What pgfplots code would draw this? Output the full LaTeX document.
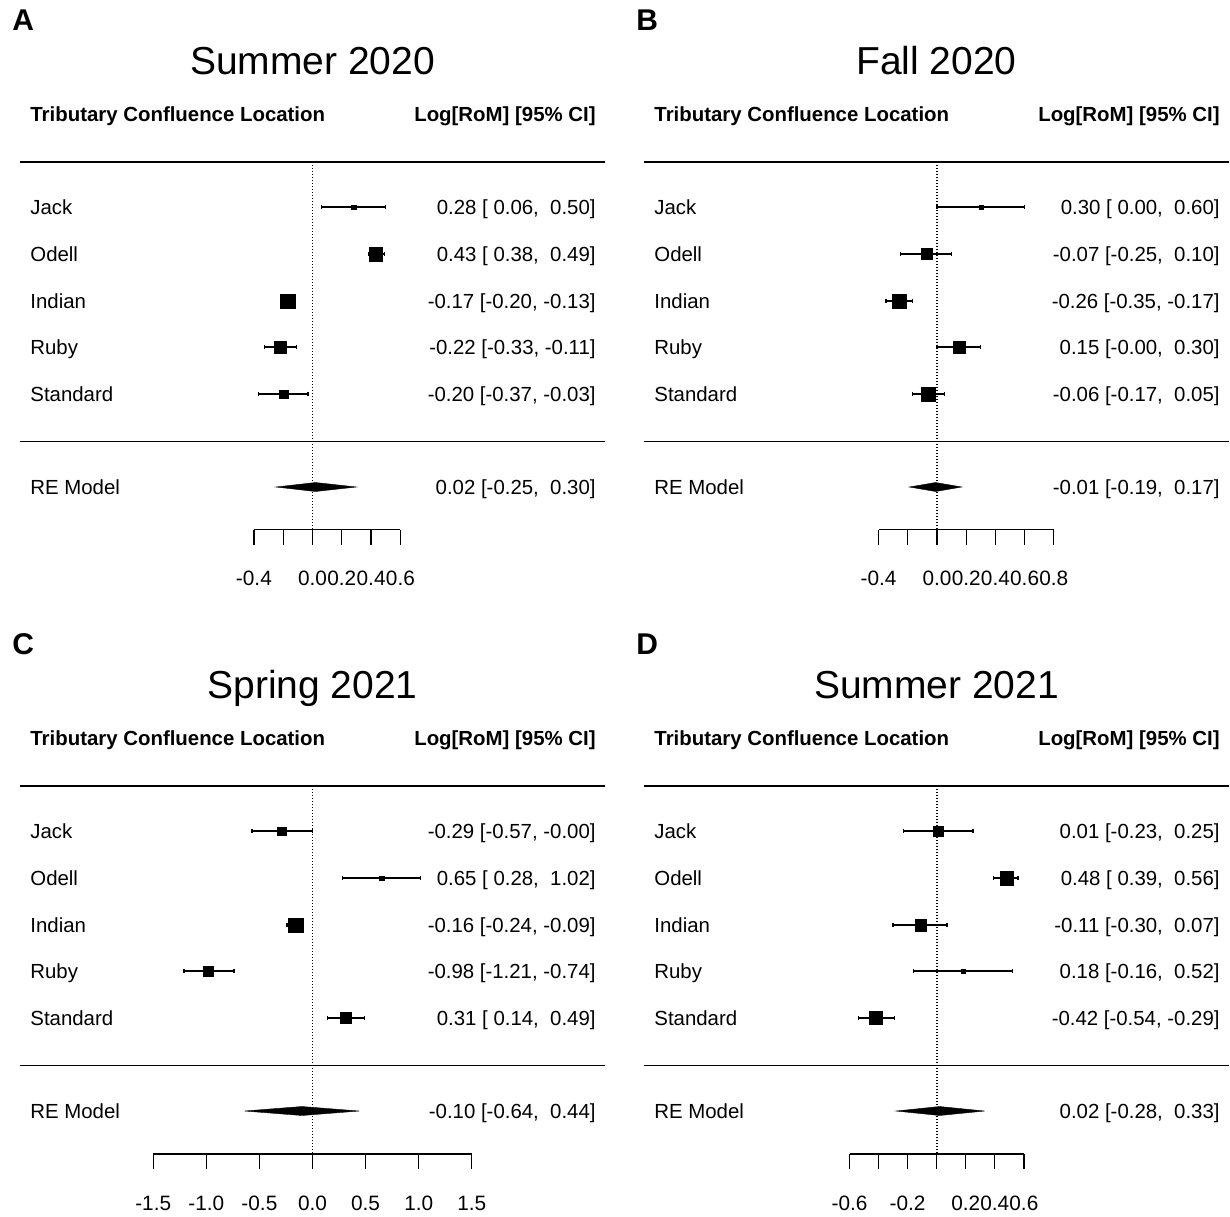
\documentclass[border=0pt]{standalone}
\usepackage{pgfplots}
\pgfplotsset{compat=1.18}
\usepackage{pgfplotstable}
\usepackage{fontspec}
\setmainfont{Liberation Sans}

\newcommand{\tf}{\fontsize{10.2}{12}\selectfont}
\newcommand{\tlf}{\fontsize{10.4}{12}\selectfont}
\newcommand{\hf}{\fontsize{10.2}{12}\selectfont\bfseries}
\newcommand{\ttlf}{\fontsize{19.5}{23}\selectfont}
\newcommand{\lf}{\fontsize{15}{18}\selectfont\bfseries}

% y = row position (negative pixels), est/lo/hi = Log[RoM] and 95% CI, ms = square half size (pt)
\pgfplotstableread{
y est lo hi ms
-207 0.28 0.06 0.50 1.2
-254 0.43 0.38 0.49 3.4
-301 -0.17 -0.20 -0.13 3.7
-347 -0.22 -0.33 -0.11 3.1
-394 -0.20 -0.37 -0.03 2.2
}\tabA
\pgfplotstableread{
y est lo hi ms
-207 0.30 0.00 0.60 1.0
-254 -0.07 -0.25 0.10 2.75
-301 -0.26 -0.35 -0.17 3.4
-347 0.15 -0.00 0.30 2.9
-394 -0.06 -0.17 0.05 3.5
}\tabB
\pgfplotstableread{
y est lo hi ms
-831 -0.29 -0.57 -0.00 2.2
-878 0.65 0.28 1.02 1.1
-925 -0.16 -0.24 -0.09 3.7
-971 -0.98 -1.21 -0.74 2.5
-1018 0.31 0.14 0.49 2.75
}\tabC
\pgfplotstableread{
y est lo hi ms
-831 0.01 -0.23 0.25 2.3
-878 0.48 0.39 0.56 3.4
-925 -0.11 -0.30 0.07 2.8
-971 0.18 -0.16 0.52 1.1
-1018 -0.42 -0.54 -0.29 3.25
}\tabD

\pgfplotsset{
  forest/.style={
    anchor=south west, clip=false, y=0.5pt,
    axis x line*=bottom, axis y line=none,
    tick align=outside, major tick length=7.5pt,
    xticklabels={}, ytick=\empty,
    x axis line style={line width=0.65pt, black},
    xtick style={line width=0.65pt, black},
  },
  studies/.style={
    scatter, only marks, mark=square*,
    scatter/use mapped color={draw=black, fill=black},
    mark options={line width=0.1pt},
    visualization depends on={\thisrow{ms} \as \ms},
    scatter/@pre marker code/.append style={/tikz/mark size=\ms},
    error bars/x dir=both, error bars/x explicit, error bars/error mark=none,
    error bars/error bar style={black, line width=0.65pt},
  },
  caps/.style={only marks, mark=|, mark size=1.2pt, mark options={line width=0.65pt, black}},
  refline/.style={black, line width=0.9pt, dash pattern=on 0.6pt off 0.9pt},
  diam/.style={fill=black, draw=black, line width=0.2pt},
}

\newcommand{\studyplots}[1]{%
  \addplot[studies] table[x=est, y=y,
    x error plus expr=\thisrow{hi}-\thisrow{est},
    x error minus expr=\thisrow{est}-\thisrow{lo}] {#1};
  \addplot[caps] table[x=lo, y=y] {#1};
  \addplot[caps] table[x=hi, y=y] {#1};
}
\newcommand{\tl}[2]{\node[anchor=base, inner sep=0, font=\tlf] at (axis cs:#1,#2) {#1};}

\newcommand{\common}[2]{%
  \node[anchor=base west, inner sep=0, font=\lf] at (12,30) {#1};
  \node[anchor=base, inner sep=0, font=\ttlf] at (312.5,74) {#2};
  \node[anchor=base west, inner sep=0, font=\hf] at (30,121) {Tributary Confluence Location};
  \node[anchor=base east, inner sep=0, font=\hf] at (596,121) {Log[RoM] [95\% CI]};
  \draw[line width=0.65pt] (20,162) -- (605,162);
  \draw[line width=0.65pt] (20,441.5) -- (605,441.5);
  \node[anchor=base west, inner sep=0, font=\tf] at (30,214) {Jack};
  \node[anchor=base west, inner sep=0, font=\tf] at (30,261) {Odell};
  \node[anchor=base west, inner sep=0, font=\tf] at (30,308) {Indian};
  \node[anchor=base west, inner sep=0, font=\tf] at (30,354) {Ruby};
  \node[anchor=base west, inner sep=0, font=\tf] at (30,401) {Standard};
  \node[anchor=base west, inner sep=0, font=\tf] at (30,494) {RE Model};
}
\newcommand{\val}[2]{\node[anchor=base east, inner sep=0, font=\tf] at (596,#1) {#2};}

\begin{document}
\begin{tikzpicture}
\useasboundingbox (0,0) rectangle (615pt,-608pt);

% ---- A: Summer 2020
\begin{axis}[forest, at={(126.95pt,-264.75pt)}, x=73.25pt,
  xmin=-0.4, xmax=0.6, ymin=-529.5, ymax=-162,
  xtick={-0.4,-0.2,0,0.2,0.4,0.6}]
  \addplot[refline] coordinates {(0,-162) (0,-529.5)};
  \studyplots{\tabA}
  \addplot[diam] coordinates {(-0.25,-487) (0.02,-482.5) (0.30,-487) (0.02,-491.5)} --cycle;
  \tl{-0.4}{-585}\tl{0.0}{-585}\tl{0.2}{-585}\tl{0.4}{-585}\tl{0.6}{-585}
\end{axis}

% ---- B: Fall 2020
\begin{axis}[forest, at={(439.3pt,-264.75pt)}, x=73pt,
  xmin=-0.4, xmax=0.8, ymin=-529.5, ymax=-162,
  xtick={-0.4,-0.2,0,0.2,0.4,0.6,0.8}]
  \addplot[refline] coordinates {(0,-162) (0,-529.5)};
  \studyplots{\tabB}
  \addplot[diam] coordinates {(-0.19,-487) (-0.01,-482.5) (0.17,-487) (-0.01,-491.5)} --cycle;
  \tl{-0.4}{-585}\tl{0.0}{-585}\tl{0.2}{-585}\tl{0.4}{-585}\tl{0.6}{-585}\tl{0.8}{-585}
\end{axis}

% ---- C: Spring 2021
\begin{axis}[forest, at={(76.6pt,-577pt)}, x=53.1pt,
  xmin=-1.5, xmax=1.5, ymin=-1154, ymax=-786,
  xtick={-1.5,-1,-0.5,0,0.5,1,1.5}]
  \addplot[refline] coordinates {(0,-786) (0,-1154)};
  \studyplots{\tabC}
  \addplot[diam] coordinates {(-0.64,-1111) (-0.10,-1106.5) (0.44,-1111) (-0.10,-1115.5)} --cycle;
  \tl{-1.5}{-1210}\tl{-1.0}{-1210}\tl{-0.5}{-1210}\tl{0.0}{-1210}\tl{0.5}{-1210}\tl{1.0}{-1210}\tl{1.5}{-1210}
\end{axis}

% ---- D: Summer 2021
\begin{axis}[forest, at={(424.75pt,-577pt)}, x=72.65pt,
  xmin=-0.6, xmax=0.6, ymin=-1154, ymax=-786,
  xtick={-0.6,-0.4,-0.2,0,0.2,0.4,0.6}]
  \addplot[refline] coordinates {(0,-786) (0,-1154)};
  \studyplots{\tabD}
  \addplot[diam] coordinates {(-0.28,-1111) (0.02,-1106.5) (0.33,-1111) (0.02,-1115.5)} --cycle;
  \tl{-0.6}{-1210}\tl{-0.2}{-1210}\tl{0.2}{-1210}\tl{0.4}{-1210}\tl{0.6}{-1210}
\end{axis}

\begin{scope}[x=0.5pt, y=-0.5pt]
  % A
  \common{A}{Summer 2020}
  \val{214}{0.28 [\ 0.06,\ \ 0.50]}
  \val{261}{0.43 [\ 0.38,\ \ 0.49]}
  \val{308}{-0.17 [-0.20, -0.13]}
  \val{354}{-0.22 [-0.33, -0.11]}
  \val{401}{-0.20 [-0.37, -0.03]}
  \val{494}{0.02 [-0.25,\ \ 0.30]}
  % B
  \begin{scope}[shift={(624,0)}]
  \common{B}{Fall 2020}
  \val{214}{0.30 [\ 0.00,\ \ 0.60]}
  \val{261}{-0.07 [-0.25,\ \ 0.10]}
  \val{308}{-0.26 [-0.35, -0.17]}
  \val{354}{0.15 [-0.00,\ \ 0.30]}
  \val{401}{-0.06 [-0.17,\ \ 0.05]}
  \val{494}{-0.01 [-0.19,\ \ 0.17]}
  \end{scope}
  % C
  \begin{scope}[shift={(0,624)}]
  \common{C}{Spring 2021}
  \val{214}{-0.29 [-0.57, -0.00]}
  \val{261}{0.65 [\ 0.28,\ \ 1.02]}
  \val{308}{-0.16 [-0.24, -0.09]}
  \val{354}{-0.98 [-1.21, -0.74]}
  \val{401}{0.31 [\ 0.14,\ \ 0.49]}
  \val{494}{-0.10 [-0.64,\ \ 0.44]}
  \end{scope}
  % D
  \begin{scope}[shift={(624,624)}]
  \common{D}{Summer 2021}
  \val{214}{0.01 [-0.23,\ \ 0.25]}
  \val{261}{0.48 [\ 0.39,\ \ 0.56]}
  \val{308}{-0.11 [-0.30,\ \ 0.07]}
  \val{354}{0.18 [-0.16,\ \ 0.52]}
  \val{401}{-0.42 [-0.54, -0.29]}
  \val{494}{0.02 [-0.28,\ \ 0.33]}
  \end{scope}
\end{scope}
\end{tikzpicture}
\end{document}
